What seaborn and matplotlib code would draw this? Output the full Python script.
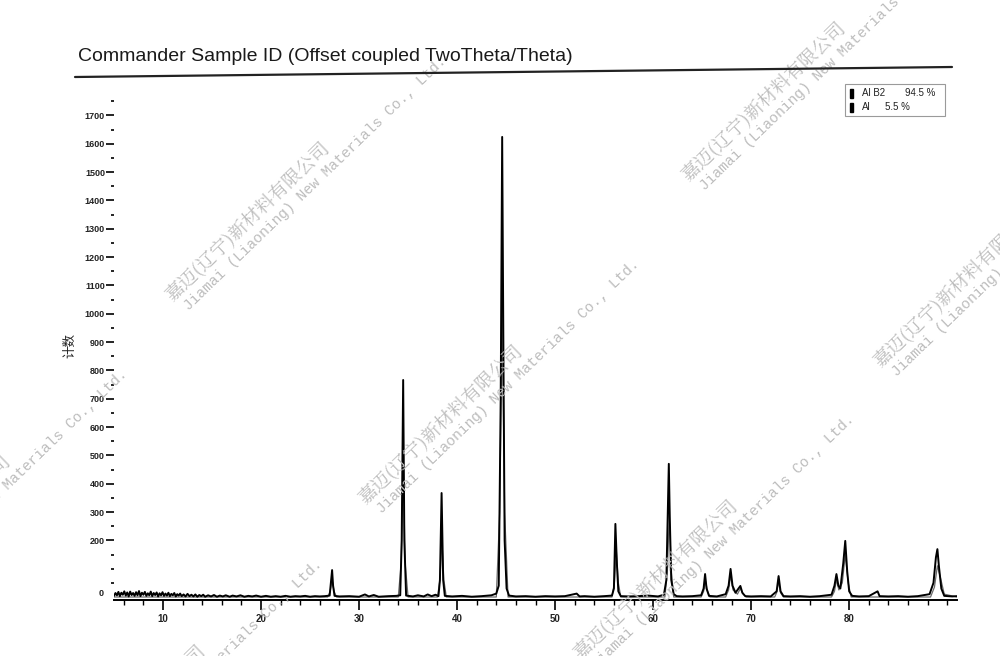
import matplotlib
matplotlib.use("Agg")
import math
import matplotlib.pyplot as plt
from matplotlib.ticker import MultipleLocator, FixedLocator
from matplotlib.patches import Rectangle
from matplotlib.lines import Line2D
import seaborn as sns
import pandas as pd

# ---------------- data ----------------
title = "Commander Sample ID (Offset coupled TwoTheta/Theta)"
y_label = "计数"
phases = ["Al B2", "Al"]
phase_pct = ["94.5 %", "5.5 %"]
x_ticks = [10, 20, 30, 40, 50, 60, 70, 80]
y_ticks = [200, 300, 400, 500, 600, 700, 800, 900, 1000, 1100, 1200,
           1300, 1400, 1500, 1600, 1700]

# measured pattern (2theta, counts)
two_theta_obs = [
    5.0, 5.15, 5.3, 5.45, 5.6, 5.75, 5.9, 6.05, 6.2, 6.35, 6.5, 6.65, 6.8,
    6.95, 7.1, 7.25, 7.4, 7.55, 7.7, 7.85, 8.0, 8.15, 8.3, 8.45, 8.6, 8.75,
    8.9, 9.05, 9.2, 9.35, 9.5, 9.65, 9.8, 9.95, 10.1, 10.25, 10.4, 10.55,
    10.7, 10.85, 11.0, 11.15, 11.3, 11.45, 11.6, 11.75, 11.9,
    12.1, 12.3, 12.5, 12.7, 12.9, 13.1, 13.3, 13.5, 13.7, 13.9, 14.1, 14.3,
    14.6, 14.9, 15.2, 15.5, 15.8, 16.1, 16.4, 16.8, 17.1, 17.5, 17.9, 18.3,
    18.7, 19.1, 19.5, 20.0, 20.5, 21.0, 21.5, 22.0, 22.5, 23.0, 23.5, 24.0,
    24.5, 25.0, 25.5, 26.0, 26.5,
    27.0, 27.15, 27.25, 27.35, 27.5,
    28.0, 29.0, 30.0, 30.6, 31.0, 31.5, 32.0, 33.0, 33.8,
    34.2, 34.35, 34.5, 34.62, 34.8,
    35.5, 36.0, 36.6, 37.0, 37.4, 37.8, 38.1,
    38.25, 38.42, 38.58, 38.75,
    39.5, 40.5, 41.5, 42.5, 43.5, 44.0,
    44.25, 44.45, 44.6, 44.72, 44.85, 45.05, 45.3,
    46.0, 47.0, 48.0, 49.0, 50.0, 51.0, 52.2, 52.5, 53.0, 54.0, 55.0, 55.8,
    56.0, 56.15, 56.3, 56.45, 56.7,
    57.5, 58.5, 59.5, 60.5, 61.1,
    61.35, 61.5, 61.6, 61.7, 61.85, 62.1, 62.4,
    63.0, 64.0, 64.9,
    65.15, 65.3, 65.45, 65.7,
    66.5, 67.4,
    67.7, 67.9, 68.1, 68.4, 68.9, 69.1, 69.4,
    70.0, 71.0, 72.0,
    72.6, 72.8, 73.0, 73.3,
    74.0, 75.0, 76.0, 77.0, 78.2,
    78.5, 78.7, 78.9, 79.1, 79.4, 79.6, 79.8, 80.0, 80.3,
    81.0, 82.0, 82.9, 83.1, 84.0, 85.0, 86.0, 87.0, 88.2,
    88.6, 88.85, 89.0, 89.15, 89.4, 89.7, 90.5, 91.0,
]
counts_obs = [
    4, 14, 6, 18, 3, 15, 8, 20, 5, 16, 2, 19, 7,
    14, 4, 17, 6, 21, 3, 15, 8, 18, 4, 13, 6, 19,
    3, 14, 7, 16, 2, 13, 6, 17, 4, 12, 5, 15,
    3, 11, 6, 14, 2, 10, 5, 12, 3,
    9, 2, 11, 3, 8, 2, 9, 1, 7, 3, 8, 1,
    6, 2, 7, 1, 5, 2, 6, 1, 5, 2, 6, 1,
    4, 2, 5, 1, 4, 1, 3, 1, 4, 1, 3, 2,
    4, 1, 3, 2, 3,
    5, 60, 95, 40, 4,
    2, 3, 1, 9, 2, 7, 1, 3, 4,
    6, 200, 766, 200, 5,
    2, 6, 2, 9, 3, 8, 3,
    60, 367, 60, 4,
    2, 4, 1, 3, 6, 12,
    40, 700, 1624, 900, 200, 30, 5,
    2, 3, 1, 3, 2, 3, 12, 2, 3, 1, 3, 5,
    30, 258, 120, 20, 3,
    2, 3, 5, 2, 8,
    60, 300, 470, 280, 60, 10, 3,
    2, 3, 6,
    30, 81, 30, 4,
    2, 10,
    40, 99, 40, 15, 39, 15, 3,
    2, 3, 2,
    20, 74, 20, 3,
    2, 3, 1, 3, 8,
    40, 81, 40, 30, 120, 198, 90, 20, 4,
    2, 3, 20, 3, 2, 3, 1, 3, 10,
    50, 140, 169, 110, 30, 4, 2, 3,
]

# calculated (fitted) profile envelope (2theta, counts)
two_theta_calc = [
    5.0, 26.8, 27.05, 27.25, 27.45, 27.7,
    34.0, 34.3, 34.5, 34.7, 35.0,
    38.0, 38.25, 38.45, 38.65, 38.9,
    44.0, 44.35, 44.6, 44.85, 45.2,
    55.8, 56.05, 56.25, 56.45, 56.7,
    61.2, 61.45, 61.65, 61.85, 62.1,
    64.9, 65.15, 65.35, 65.55, 65.8,
    67.4, 67.7, 67.9, 68.15, 68.6, 68.9, 69.2, 69.5,
    72.4, 72.6, 72.8, 73.0, 73.3,
    78.2, 78.5, 78.7, 78.95, 79.3, 79.6, 79.9, 80.2,
    88.3, 88.7, 89.0, 89.3, 89.7, 91.0,
]
counts_calc = [
    0, 0, 20, 60, 20, 0,
    0, 120, 470, 120, 0,
    0, 60, 200, 60, 0,
    0, 300, 1030, 300, 0,
    0, 50, 160, 50, 0,
    0, 90, 290, 90, 0,
    0, 20, 55, 20, 0,
    0, 25, 75, 25, 10, 30, 10, 0,
    0, 15, 55, 15, 0,
    0, 20, 60, 25, 50, 150, 50, 0,
    0, 35, 110, 70, 10, 0,
]

# watermark anchors (start of Chinese line, px from top-left)
wm_x = [172, 365, 688, 880, 580, -147, 48]
wm_y = [302, 505, 182, 368, 660, 615, 805]
wm_cn = "嘉迈(辽宁)新材料有限公司"
wm_en = "Jiamai (Liaoning) New Materials Co., Ltd."

# ---------------- figure ----------------
sns.set_theme(style="white")
plt.rcParams["font.family"] = ["Liberation Sans", "DejaVu Sans"]

W, H = 1000, 656
fig = plt.figure(figsize=(W / 100, H / 100), dpi=100)
fig.patch.set_facecolor("white")


def fx(px):
    return px / W


def fy(py):
    return 1 - py / H


# watermarks (behind everything)
ang = 44
ca, sa = math.cos(math.radians(ang)), math.sin(math.radians(ang))
for x0, y0 in zip(wm_x, wm_y):
    fig.text(fx(x0), fy(y0), wm_cn, rotation=ang, rotation_mode="anchor",
             ha="left", va="baseline", fontsize=13.5, color="#bdbdbd",
             family=["Noto Serif CJK SC", "Noto Sans CJK SC", "DejaVu Sans"],
             zorder=0)
    ex, ey = x0 + 18 * sa + 6 * ca, y0 + 18 * ca - 6 * sa
    fig.text(fx(ex), fy(ey), wm_en, rotation=ang, rotation_mode="anchor",
             ha="left", va="baseline", fontsize=10.5, color="#bdbdbd",
             family=["Liberation Mono", "DejaVu Sans Mono"], zorder=0)

ax = fig.add_axes([fx(114), fy(600), fx(957) - fx(114), fy(95) - fy(600)])
ax.set_facecolor("none")

df_calc = pd.DataFrame({"tt": two_theta_calc, "c": counts_calc})
df_obs = pd.DataFrame({"tt": two_theta_obs, "c": counts_obs})
sns.lineplot(data=df_calc, x="tt", y="c", ax=ax, color="#6a6a6a",
             lw=0.9, estimator=None, sort=False)
sns.lineplot(data=df_obs, x="tt", y="c", ax=ax, color="black",
             lw=1.4, estimator=None, sort=False)

ax.set_xlim(5.0, 91.0)
ax.set_ylim(-10.6, 1772)
ax.set_xlabel("")
ax.set_ylabel("")

for s in ["top", "right", "left"]:
    ax.spines[s].set_visible(False)
ax.spines["bottom"].set_color("black")
ax.spines["bottom"].set_linewidth(1.4)

ax.xaxis.set_major_locator(FixedLocator(x_ticks))
ax.xaxis.set_minor_locator(MultipleLocator(2))
ax.yaxis.set_major_locator(FixedLocator(y_ticks))
ax.yaxis.set_minor_locator(FixedLocator(
    [v for v in range(50, 1800, 50) if v not in y_ticks]))
ax.set_xticklabels([str(v) for v in x_ticks])
ax.set_yticklabels([str(v) for v in y_ticks])

ax.tick_params(axis="x", which="major", direction="out", length=7, width=1.2,
               color="black", labelsize=7, pad=3, bottom=True)
ax.tick_params(axis="x", which="minor", direction="out", length=3.5, width=1.0,
               color="black", bottom=True)
ax.tick_params(axis="y", which="major", direction="out", length=6, width=1.2,
               color="black", labelsize=6.5, pad=0.5, left=True)
ax.tick_params(axis="y", which="minor", direction="out", length=2.5, width=1.2,
               color="black", left=True)
for lab in ax.get_xticklabels() + ax.get_yticklabels():
    lab.set_fontweight("bold")
    lab.set_color("#222222")

# "0" label (no tick mark)
ax.text(-0.012, 14, "0", transform=ax.get_yaxis_transform(), ha="right",
        va="center", fontsize=6.5, fontweight="bold", color="#222222")

# y label
fig.text(fx(70), fy(345), y_label, rotation=90, ha="center", va="center",
         fontsize=9, family=["Noto Sans CJK SC", "DejaVu Sans"], color="#222222")

# title and rule under it
fig.text(fx(78), fy(61), title, ha="left", va="baseline", fontsize=14,
         color="#1a1a1a")
fig.add_artist(Line2D([fx(75), fx(952)], [fy(77), fy(67)], color="#222222",
                      lw=1.6, transform=fig.transFigure))

# legend box
fig.add_artist(Rectangle((fx(845), fy(116)), fx(945) - fx(845),
                         fy(84) - fy(116), transform=fig.transFigure,
                         fill=False, edgecolor="#9a9a9a", lw=0.8))
for i, (ph, pc) in enumerate(zip(phases, phase_pct)):
    yc = 93 + i * 14
    fig.add_artist(Rectangle((fx(850), fy(yc + 4.5)), fx(3), 9 / H,
                             transform=fig.transFigure, color="black"))
    fig.text(fx(862), fy(yc), ph, ha="left", va="center", fontsize=7,
             color="#222222")
    fig.text(fx(905) if i == 0 else fx(885), fy(yc), pc, ha="left",
             va="center", fontsize=7, color="#222222")

fig.savefig("out.png", dpi=100, facecolor="white")
